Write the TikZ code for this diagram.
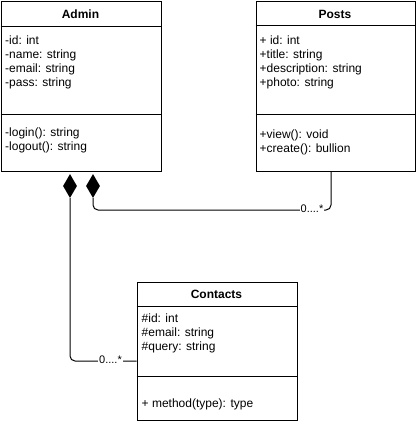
\documentclass[tikz,border=0pt]{standalone}
\usepackage{fontspec}
\setmainfont{Liberation Sans}
\usetikzlibrary{shapes.geometric}
\begin{document}
\begin{tikzpicture}[x=1pt,y=-1pt,
  umlbox/.style={draw=black, line width=1pt, inner sep=0pt, anchor=north west, fill=white},
  sep/.style={draw=black, line width=1pt},
  ttl/.style={anchor=base, inner sep=0pt, font=\fontsize{12}{14}\selectfont\bfseries},
  txt/.style={anchor=base west, inner sep=0pt, font=\fontsize{12}{14}\selectfont},
  conn/.style={draw=black, line width=1pt, rounded corners=5pt},
  comp/.style={shape=diamond, fill=black, draw=none, inner sep=0pt, minimum width=14pt, minimum height=24pt},
  mult/.style={fill=white, inner sep=1pt, font=\fontsize{11}{13}\selectfont}
]
\useasboundingbox (0,0) rectangle (416,424);

% Admin
\node[umlbox, minimum width=160pt, minimum height=170pt] (admin) at (0.5,0.5) {};
\draw[sep] (admin.west |- 0,26) -- (admin.east |- 0,26);
\draw[sep] (admin.west |- 0,114) -- (admin.east |- 0,114);
\node[ttl] (adminT) at (80.5,18.5) {Admin};
\node[txt] (a1) at (5,44.5) {-id: int};
\node[txt] (a2) at (5,58.5) {-name: string};
\node[txt] (a3) at (5,72.5) {-email: string};
\node[txt] (a4) at (5,86.5) {-pass: string};
\node[txt] (a5) at (5,136.5) {-login(): string};
\node[txt] (a6) at (5,150.5) {-logout(): string};

% Posts
\node[umlbox, minimum width=159pt, minimum height=170pt] (posts) at (255.5,0.5) {};
\draw[sep] (posts.west |- 0,25.5) -- (posts.east |- 0,25.5);
\draw[sep] (posts.west |- 0,114.5) -- (posts.east |- 0,114.5);
\node[ttl] (postsT) at (335,18.5) {Posts};
\node[txt] (p1) at (259.5,44.5) {+ id: int};
\node[txt] (p2) at (259.5,58.5) {+title: string};
\node[txt] (p3) at (259.5,72.5) {+description: string};
\node[txt] (p4) at (259.5,86.5) {+photo: string};
\node[txt] (p5) at (259.5,138) {+view(): void};
\node[txt] (p6) at (259.5,152) {+create(): bullion};

% Contacts
\node[umlbox, minimum width=160pt, minimum height=138pt] (contacts) at (136.5,281.5) {};
\draw[sep] (contacts.west |- 0,306.5) -- (contacts.east |- 0,306.5);
\draw[sep] (contacts.west |- 0,376.5) -- (contacts.east |- 0,376.5);
\node[ttl] (contactsT) at (216.5,298) {Contacts};
\node[txt] (c1) at (141.5,322.5) {\#id: int};
\node[txt] (c2) at (141.5,336.5) {\#email: string};
\node[txt] (c3) at (141.5,350.5) {\#query: string};
\node[txt] (c4) at (141.5,407) {+ method(type): type};

% Composition diamonds
\node[comp] (d1) at (70,186) {};
\node[comp] (d2) at (93,186) {};

% Connectors
\draw[conn] (d1.south) |- (contacts.west |- 0,361);
\draw[conn] (d2.south) |- (331,210) -- (posts.south -| 331,0);

% Multiplicities
\node[mult] (m1) at (110.5,360) {0....*};
\node[mult] (m2) at (312,209) {0....*};
\end{tikzpicture}
\end{document}
